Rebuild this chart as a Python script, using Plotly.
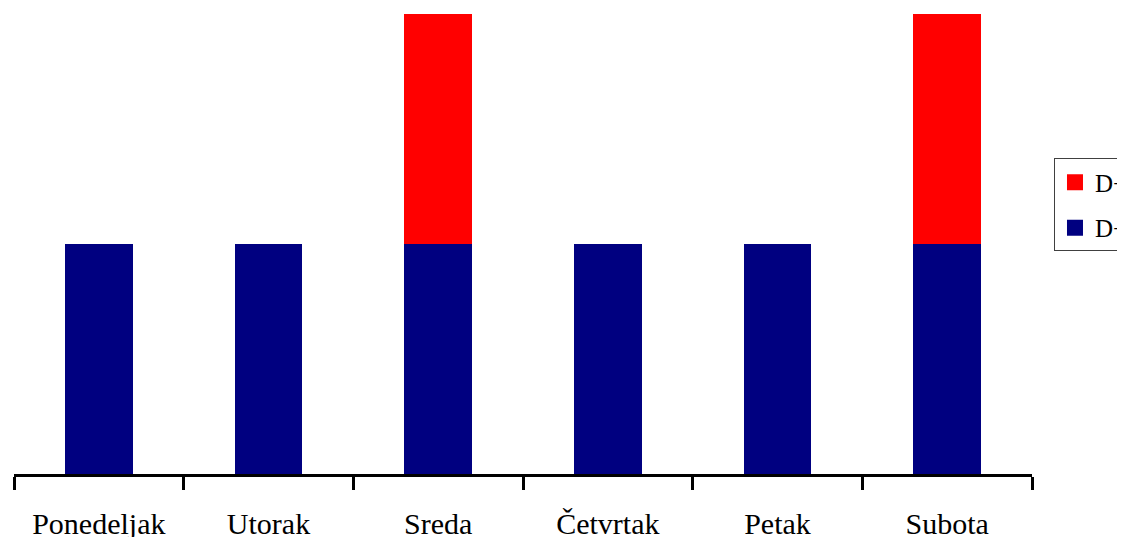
import plotly.graph_objects as go

categories = ["Ponedeljak", "Utorak", "Sreda", "Četvrtak", "Petak", "Subota"]
d1_values = [1, 1, 1, 1, 1, 1]
d3_values = [0, 0, 1, 0, 0, 1]
series_names = ["D+1", "D+3"]
colors = ["#000080", "#FF0000"]

fig = go.Figure()
fig.add_trace(go.Bar(x=categories, y=d1_values, name=series_names[0],
                     marker=dict(color=colors[0], line=dict(width=0)),
                     width=0.4, showlegend=False))
fig.add_trace(go.Bar(x=categories, y=d3_values, name=series_names[1],
                     marker=dict(color=colors[1], line=dict(width=0)),
                     width=0.4, showlegend=False))
# legend entries (square swatches), top entry first: D+3 then D+1
for name, col in reversed(list(zip(series_names, colors))):
    fig.add_trace(go.Scatter(x=[None], y=[None], mode="markers", name=name,
                             legendgroup=name,
                             marker=dict(symbol="square", size=16, color=col),
                             showlegend=True))

fig.update_layout(
    width=1117, height=529,
    barmode="stack",
    paper_bgcolor="white", plot_bgcolor="white",
    margin=dict(l=6, r=93, t=6, b=63, autoexpand=False),
    font=dict(family="Liberation Serif, Times New Roman, serif", color="black"),
    xaxis=dict(
        range=[-0.5, 5.5], showline=True, linecolor="black", linewidth=3,
        ticks="outside", ticklen=13, tickwidth=3, tickcolor="black",
        tickson="boundaries", showgrid=False, zeroline=False,
        tickfont=dict(size=30, family="Liberation Serif, Times New Roman, serif"),
        ticklabelstandoff=21,
    ),
    yaxis=dict(range=[0, 2], visible=False, showgrid=False, zeroline=False),
    legend=dict(
        x=1.0216, xanchor="left", y=0.585, yanchor="middle",
        bordercolor="#404040", borderwidth=1, bgcolor="white",
        font=dict(size=25, family="Liberation Serif, Times New Roman, serif"),
        traceorder="grouped", tracegroupgap=10, itemwidth=30,
    ),
)

fig.write_html("out.html")
